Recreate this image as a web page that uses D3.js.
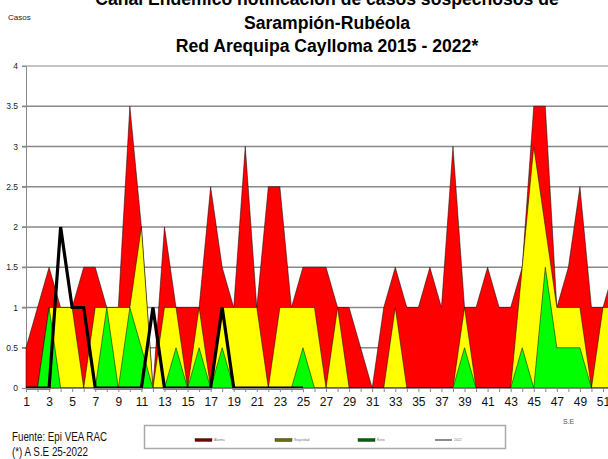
<!DOCTYPE html>
<html>
<head>
<meta charset="utf-8">
<script src="https://cdn.jsdelivr.net/npm/d3@7"></script>
<style>
  html, body { margin: 0; padding: 0; background: #fff; }
  svg { display: block; }
</style>
</head>
<body>
<svg id="chart" width="608" height="459"></svg>
<script>
const weeks = d3.range(1, 53);
const alarma =    [0.5,1,1.5,1,1,1.5,1.5,1,1,3.5, 2,0,2,1,1,1,2.5,1.5,1,3, 1,2.5,2.5,1,1.5,1.5,1.5,1,1,0.5, 0,1,1.5,1,1,1.5,1,3,1,1, 1.5,1,1,1.5,3.5,3.5,1,1.5,2.5,1, 1,1.5];
const seguridad = [0,0,1,1,1,0,1,1,1,1, 2,0,1,1,0,1,0,1,1,1, 1,0,1,1,1,1,0,1,0,0, 0,0,1,0,0,0,0,0,1,0, 0,0,0,1.5,3,2,1,1,1,0, 1,1];
const exito =     [0,0,1,0,0,0,0,1,0,1, 0.5,0,0,0.5,0,0.5,0,0.5,0,0, 0,0,0,0,0.5,0,0,0,0,0, 0,0,0,0,0,0,0,0,0.5,0, 0,0,0,0.5,0,1.5,0.5,0.5,0.5,0, 0,0];
const casos2022 = [0,0,0,2,1,1,0,0,0,0, 0,1,0,0,0,0,0,1,0,0, 0,0,0,0,0];
const yTicks = [0,0.5,1,1.5,2,2.5,3,3.5,4];
const xTickLabels = d3.range(1, 53, 2);
const titleLines = ["Canal Endémico notificación de casos sospechosos de", "Sarampión-Rubéola", "Red Arequipa Caylloma 2015 - 2022*"];
const footLines = ["Fuente: Epi VEA RAC", "(*) A S.E 25-2022"];
const legendItems = [
  {label: "Alarma", color: "#ff0000", dark: "#7a0000"},
  {label: "Seguridad", color: "#ffff00", dark: "#6b6b00"},
  {label: "Éxito", color: "#00ff00", dark: "#006400"},
  {label: "2022", color: "#000000", dark: "#666"}
];

const svg = d3.select("#chart");
const x = d3.scaleLinear().domain([1, 52]).range([26, 26 + 51 * 11.54]);
const y = d3.scaleLinear().domain([0, 4]).range([388, 66]);

// Title
const title = svg.append("g").attr("font-family", "Liberation Sans, Arial, sans-serif")
  .attr("font-weight", "bold").attr("font-size", "17.6px").attr("text-anchor", "middle").attr("fill", "#000");
title.selectAll("text").data(titleLines).join("text")
  .attr("x", 327).attr("y", (d, i) => 5 + i * 23.5).text(d => d);

svg.append("text").attr("x", 8).attr("y", 20).attr("font-family", "Liberation Sans, Arial, sans-serif")
  .attr("font-size", "8px").attr("fill", "#222").text("Casos");

// Gridlines
svg.append("g").selectAll("line").data(yTicks.filter(d => d > 0)).join("line")
  .attr("x1", 22).attr("x2", 608).attr("y1", d => y(d)).attr("y2", d => y(d))
  .attr("stroke", d => d === 4 ? "#b0b0b0" : "#888").attr("stroke-width", 1.4);

// Y axis labels
const yAxis = d3.axisLeft(y).tickValues(yTicks).tickSize(4).tickFormat(d3.format("~g"));
const gy = svg.append("g").attr("transform", "translate(26,0)").call(yAxis);
gy.select(".domain").attr("stroke", "#888");
gy.selectAll(".tick line").attr("stroke", "#888");
gy.selectAll(".tick text").attr("font-family", "Liberation Sans, Arial, sans-serif").attr("font-size", "8.5px").attr("fill", "#222").attr("x", -8);

// Areas
const area = data => d3.area().x((d, i) => x(weeks[i])).y0(y(0)).y1(d => y(d))(data);
const layers = [
  {data: alarma, color: "#ff0000"},
  {data: seguridad, color: "#ffff00"},
  {data: exito, color: "#00ff00"}
];
svg.append("g").selectAll("path").data(layers).join("path")
  .attr("d", d => area(d.data)).attr("fill", d => d.color)
  .attr("stroke", "#000").attr("stroke-width", 0.5).attr("stroke-linejoin", "miter");

// 2022 line
svg.append("path")
  .attr("d", d3.line().x((d, i) => x(weeks[i])).y(d => y(d))(casos2022))
  .attr("fill", "none").attr("stroke", "#000").attr("stroke-width", 3.2).attr("stroke-linejoin", "miter");

// X axis
const gx = svg.append("g").attr("transform", "translate(0,388)")
  .call(d3.axisBottom(x).tickValues(weeks).tickSize(4).tickFormat(d => xTickLabels.includes(d) ? d : ""));
gx.select(".domain").attr("stroke", "#888");
gx.selectAll(".tick line").attr("stroke", "#888");
gx.selectAll(".tick text").attr("font-family", "Liberation Sans Narrow, Arial Narrow, sans-serif")
  .attr("font-size", "12px").attr("fill", "#111").attr("dy", "0.95em");

// Footer
const footW = [95, 76];
svg.append("g").attr("font-family", "Liberation Sans Narrow, Arial Narrow, sans-serif").attr("font-size", "12px").attr("fill", "#111")
  .selectAll("text").data(footLines).join("text")
  .attr("x", 12).attr("y", (d, i) => 441 + i * 15)
  .attr("textLength", (d, i) => footW[i]).attr("lengthAdjust", "spacingAndGlyphs")
  .text(d => d);

svg.append("text").attr("x", 563).attr("y", 424).attr("font-family", "Liberation Sans, Arial, sans-serif")
  .attr("font-size", "7px").attr("fill", "#555").text("S.E");

// Legend
svg.append("rect").attr("x", 144.5).attr("y", 425.5).attr("width", 361).attr("height", 23)
  .attr("fill", "#fff").attr("stroke", "#aaa").attr("stroke-width", 1.5);
const legX = [195, 275, 358, 435];
const lg = svg.append("g").selectAll("g").data(legendItems).join("g")
  .attr("transform", (d, i) => `translate(${legX[i]},440)`);
lg.each(function(d) {
  const g = d3.select(this);
  if (d.label === "2022") {
    g.append("line").attr("x1", 0).attr("x2", 17).attr("y1", 0).attr("y2", 0).attr("stroke", "#666").attr("stroke-width", 1.5);
  } else {
    g.append("rect").attr("x", 0).attr("y", -1.5).attr("width", 17).attr("height", 3)
      .attr("fill", d.dark).attr("stroke", "#222").attr("stroke-width", 0.4);
  }
  g.append("text").attr("x", 19).attr("y", 1.2).attr("font-family", "Liberation Sans, Arial, sans-serif")
    .attr("font-size", "3.4px").attr("fill", "#777").text(d.label);
});
</script>
</body>
</html>
